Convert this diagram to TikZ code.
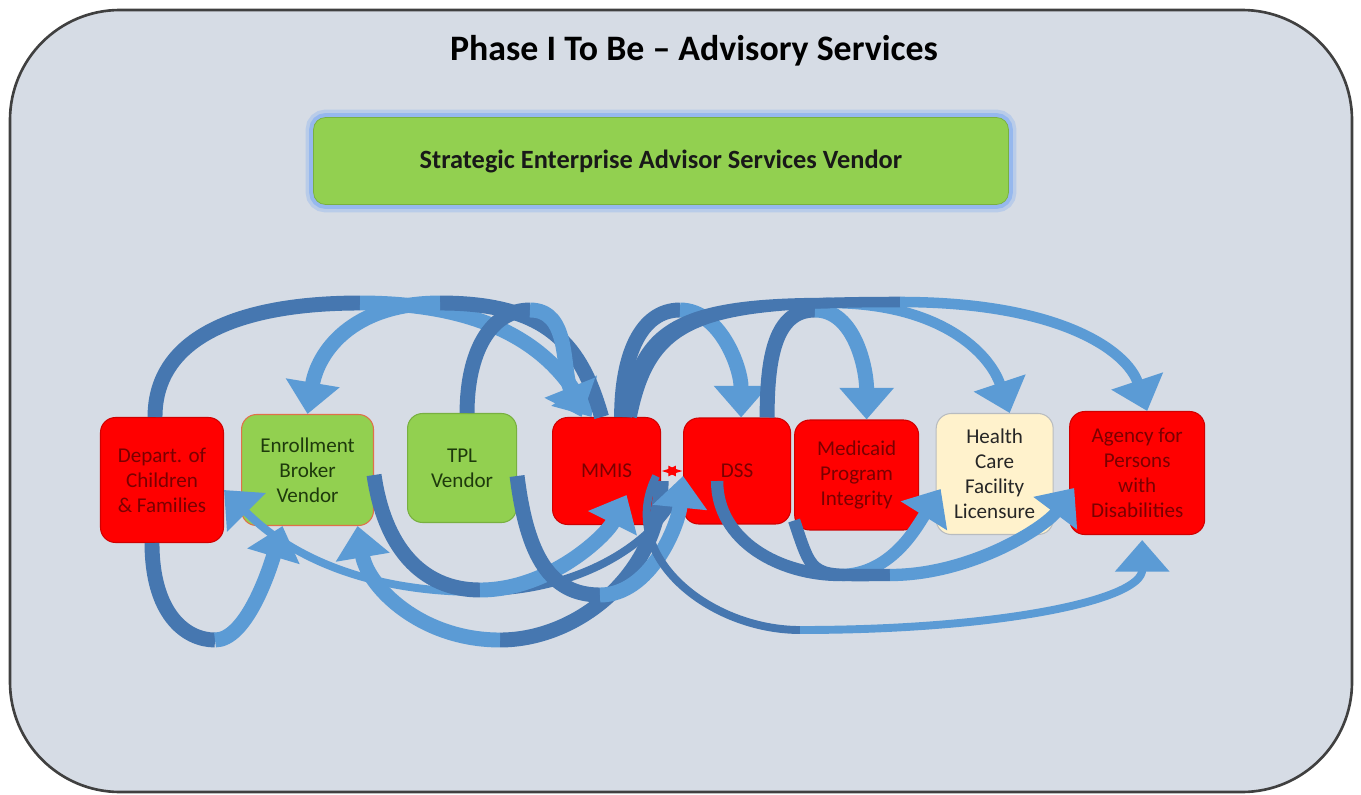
\documentclass[tikz,border=0pt]{standalone}
\usepackage{fontspec}
\setmainfont{Carlito}
\usepackage{tikz}
\usetikzlibrary{arrows.meta, calc, positioning}
\definecolor{panelbg}{HTML}{D6DCE5}
\definecolor{framegray}{HTML}{404040}
\definecolor{boxred}{HTML}{FF0000}
\definecolor{boxredline}{HTML}{D00000}
\definecolor{txtred}{HTML}{7A0000}
\definecolor{boxgreen}{HTML}{92D050}
\definecolor{boxgreenline}{HTML}{78B040}
\definecolor{brokerline}{HTML}{E0704A}
\definecolor{txtgreen}{HTML}{1E3A0C}
\definecolor{boxcream}{HTML}{FFF2CC}
\definecolor{creamline}{HTML}{B8BCC0}
\definecolor{glowblue}{HTML}{8EB4F0}
\definecolor{flowdark}{HTML}{4677B0}
\definecolor{flowlight}{HTML}{5B9BD5}

\begin{document}
\begin{tikzpicture}[x=0.02cm, y=-0.02cm, >=Latex,
  orgbox/.style={rounded corners=0.3cm, align=center, inner sep=2pt, line width=0.6pt, font=\fontsize{12}{14.2}\selectfont},
  agency/.style={orgbox, fill=boxred, draw=boxredline, text=txtred},
  vendor/.style={orgbox, fill=boxgreen, draw=boxgreenline, text=txtgreen},
  tailflow/.style={line width=8.5pt, draw=flowdark},
  headflow/.style={line width=8.5pt, draw=flowlight, -{Triangle[width=30pt,length=18pt]}}]
\useasboundingbox (0,0) rectangle (1361,794);
\draw[draw=framegray, line width=1.5pt, fill=panelbg, rounded corners=2.2cm] (10,10) rectangle (1352,792);
\node[font=\bfseries\fontsize{20.4}{24}\selectfont] (title) at (694,51) {Phase I To Be – Advisory Services};
\node[rounded corners=0.24cm, fill=boxgreen, draw=boxgreenline, minimum width=13.9cm, minimum height=1.74cm,
  font=\bfseries\fontsize{15}{18}\selectfont, text=black!90,
  preaction={draw=glowblue, line width=9pt, opacity=0.4},
  preaction={draw=glowblue, line width=5pt, opacity=0.8}] (seas) at (661,161) {Strategic Enterprise Advisor Services Vendor};

% organisations
\node[agency, minimum width=2.46cm, minimum height=2.5cm] (dcf) at (162,480) {Depart. of\\Children\\\& Families};
\node[vendor, draw=brokerline, minimum width=2.64cm, minimum height=2.22cm, right=0.34cm of dcf, yshift=0.2cm] (ebv) {Enrollment\\Broker\\Vendor};
\node[vendor, minimum width=2.18cm, minimum height=2.18cm, right=0.66cm of ebv, yshift=0.04cm] (tpl) {TPL\\Vendor};
\node[agency, minimum width=2.16cm, minimum height=2.14cm, right=0.7cm of tpl, yshift=-0.06cm] (mmis) {MMIS};
\node[agency, minimum width=2.14cm, minimum height=2.12cm, right=0.44cm of mmis] (dss) {DSS};
\node[agency, minimum width=2.48cm, minimum height=2.2cm, right=0.06cm of dss, yshift=-0.08cm] (mpi) {Medicaid\\Program\\Integrity};
\node[orgbox, fill=boxcream, draw=creamline, text=black!85, minimum width=2.34cm, minimum height=2.42cm, right=0.33cm of mpi, yshift=0.02cm] (hcf) {Health\\Care\\Facility\\Licensure};
\node[agency, minimum width=2.7cm, minimum height=2.46cm, right=0.31cm of hcf, yshift=0.02cm] (apd) {Agency for\\Persons\\with\\Disabilities};

% upper flows
\coordinate (apA) at (360,303);
\coordinate (apB) at (440,303);
\coordinate (apC) at (530,310);
\coordinate (apD) at (680,310);
\coordinate (apE) at (815,310);
\coordinate (apF) at (830,303);
\coordinate (apG) at (900,302);
\draw[tailflow] ($(dcf.north)+(-7,0)$) .. controls +(0,-80) and +(-120,0) .. (apA);
\draw[headflow] (apA) .. controls +(140,0) and +(-40,-60) .. ($(mmis.north)+(-15,0)$);
\draw[tailflow] ($(mmis.north)+(-5,0)$) .. controls +(-20,-70) and +(110,0) .. (apB);
\draw[headflow] (apB) .. controls +(-90,0) and +(10,-60) .. (ebv.north);
\draw[tailflow] ($(tpl.north)+(5,0)$) .. controls +(0,-60) and +(-40,0) .. (apC);
\draw[headflow] (apC) .. controls +(40,0) and +(-20,-50) .. ($(mmis.north)+(-25,0)$);
\draw[tailflow] ($(mmis.north)+(15,0)$) .. controls +(0,-60) and +(-40,0) .. (apD);
\draw[headflow] (apD) .. controls +(40,0) and +(0,-50) .. ($(dss.north)+(4,0)$);
\draw[tailflow] ($(dss.north)+(30,0)$) .. controls +(0,-60) and +(-40,0) .. (apE);
\draw[headflow] (apE) .. controls +(40,0) and +(0,-50) .. ($(mpi.north)+(10,0)$);
\draw[tailflow, line width=6pt] ($(mmis.north)+(20,0)$) .. controls +(10,-90) and +(-150,0) .. (apF);
\draw[headflow, line width=6pt] (apF) .. controls +(110,0) and +(-20,-60) .. ($(hcf.north)+(15,0)$);
\draw[tailflow, line width=6pt] ($(mmis.north)+(25,0)$) .. controls +(20,-100) and +(-200,0) .. (apG);
\draw[headflow, line width=6pt] (apG) .. controls +(160,0) and +(-20,-60) .. ($(apd.north)+(10,0)$);

% lower flows
\coordinate (apH) at (215,640);
\coordinate (apI) at (480,592);
\coordinate (apJ) at (500,640);
\coordinate (apK) at (480,590);
\coordinate (apL) at (600,595);
\coordinate (apM) at (840,575);
\coordinate (apN) at (890,575);
\coordinate (apO) at (800,630);
\draw[tailflow] ($(dcf.south)+(-10,0)$) .. controls +(0,70) and +(-30,0) .. (apH);
\draw[headflow] (apH) .. controls +(30,0) and +(-15,50) .. ($(ebv.south)+(-25,0)$);
\draw[tailflow, line width=4.5pt] ($(dss.west)+(0,10)$) .. controls +(-20,60) and +(100,0) .. (apI);
\draw[headflow, line width=4.5pt] (apI) .. controls +(-150,0) and +(40,40) .. ($(dcf.east)+(0,10)$);
\draw[tailflow] ($(mmis.east)+(0,10)$) .. controls +(0,90) and +(80,0) .. (apJ);
\draw[headflow] (apJ) .. controls +(-80,0) and +(10,60) .. ($(ebv.south)+(50,0)$);
\draw[tailflow] ($(ebv.east)+(0,5)$) .. controls +(10,70) and +(-60,0) .. (apK);
\draw[headflow] (apK) .. controls +(70,0) and +(-20,40) .. ($(mmis.south)+(20,-30)$);
\draw[tailflow] ($(tpl.east)+(0,8)$) .. controls +(10,80) and +(-50,0) .. (apL);
\draw[headflow] (apL) .. controls +(50,0) and +(-5,50) .. ($(dss.west)+(0,5)$);
\draw[tailflow, line width=7pt] ($(dss.center)+(-20,10)$) .. controls +(0,60) and +(-60,0) .. (apM);
\draw[headflow, line width=7pt] (apM) .. controls +(50,0) and +(-25,40) .. ($(hcf.west)+(5,15)$);
\draw[tailflow, line width=7pt] ($(mpi.south west)+(0,-10)$) .. controls +(20,60) and +(-80,0) .. (apN);
\draw[headflow, line width=7pt] (apN) .. controls +(80,0) and +(-30,40) .. ($(apd.west)+(5,15)$);
\draw[tailflow, line width=4.5pt] ($(mmis.east)+(-5,5)$) .. controls +(-40,80) and +(-90,0) .. (apO);
\draw[headflow, line width=4.5pt] (apO) .. controls +(200,0) and +(0,60) .. ($(apd.south)+(5,5)$);

\draw[red, line width=1.2pt, <->] (mmis.east) -- (dss.west);
\end{tikzpicture}
\end{document}
